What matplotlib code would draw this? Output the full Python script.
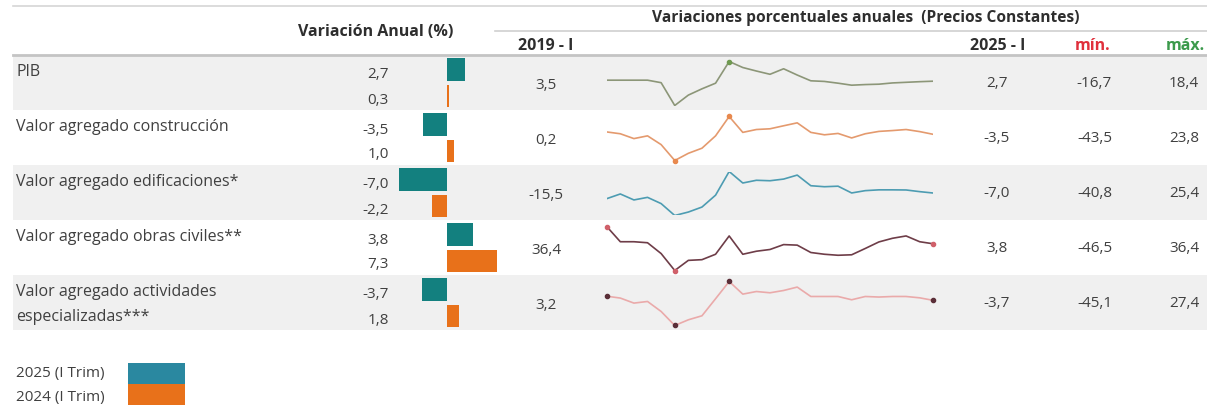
import numpy as np
import matplotlib.pyplot as plt
from matplotlib.patches import Rectangle

plt.rcParams['font.family'] = ['Open Sans', 'DejaVu Sans']

W, H = 1207, 409

# Datos
labels = ["PIB",
          "Valor agregado construcción",
          "Valor agregado edificaciones*",
          "Valor agregado obras civiles**",
          "Valor agregado actividades\nespecializadas***"]
var_2025 = [2.7, -3.5, -7.0, 3.8, -3.7]
var_2024 = [0.3, 1.0, -2.2, 7.3, 1.8]
val_2019 = [3.5, 0.2, -15.5, 36.4, 3.2]
val_2025 = [2.7, -3.5, -7.0, 3.8, -3.7]
val_min = [-16.7, -43.5, -40.8, -46.5, -45.1]
val_max = [18.4, 23.8, 25.4, 36.4, 27.4]

# series trimestrales 2019-I ... 2025-I
serie_pib = [3.5, 3.5, 3.5, 3.5, 1.5, -16.7, -8.4, -3.4, 1.1, 18.4, 13.6, 10.8, 8.2,
             12.6, 7.6, 3.0, 2.5, 1.1, -0.5, 0.0, 0.3, 1.3, 1.8, 2.3, 2.7]
serie_constr = [0.2, -2.6, -10.0, -5.8, -19.2, -43.5, -32.5, -24.7, -5.8, 23.8, -0.5, 3.9, 5.0,
                9.6, 14.1, -0.5, -4.2, -2.1, -9.0, -2.6, 1.0, 2.3, 3.9, 0.7, -3.5]
serie_edif = [-15.5, -8.4, -17.4, -13.5, -22.9, -40.8, -35.6, -28.1, -10.2, 25.4, 8.1, 12.2, 11.5,
              14.0, 20.0, 4.0, 2.5, 3.3, -6.9, -3.4, -2.2, -2.2, -2.4, -4.9, -7.0]
serie_obras = [36.4, 7.7, 7.7, 5.8, -14.6, -46.5, -27.4, -26.1, -15.9, 18.6, -15.9, -10.2, -6.9,
               2.3, 1.3, -12.6, -15.9, -17.8, -16.9, -5.0, 7.3, 14.2, 18.6, 7.7, 3.8]
serie_activ = [3.2, 0.1, -8.2, -5.5, -22.0, -45.1, -35.7, -29.1, -1.0, 27.4, 6.6, 10.9, 8.8,
               12.6, 18.2, 2.7, 2.7, 2.7, -2.7, 2.7, 1.8, 2.7, 2.7, 0.5, -3.7]
series = [serie_pib, serie_constr, serie_edif, serie_obras, serie_activ]

line_colors = ["#8c9678", "#e49a6e", "#4d9cb2", "#6e3d48", "#eaaaaa"]
marker_colors = ["#6f9a50", "#e8894e", "#4d9cb2", "#d0606a", "#5a2e38"]
# que puntos se marcan en cada sparkline
marker_kinds = [["max"], ["max", "min"], [], ["first", "min", "last"],
                ["first", "min", "max", "last"]]

TEAL = "#13807f"
ORANGE = "#e8711a"
TXT = "#404040"
HDR = "#2e2e2e"
FS_LAB, FS_NUM, FS_HDR = 11.5, 11, 11.2

row_top = [55, 110, 165, 220, 275]
row_h = 55


def fmt(v):
    return f"{v:.1f}".replace(".", ",")


def px_axes(fig, x0, x1, y0, y1):
    return fig.add_axes([x0 / W, 1 - y1 / H, (x1 - x0) / W, (y1 - y0) / H])


fig = plt.figure(figsize=(W / 100, H / 100), dpi=100)
bg = fig.add_axes([0, 0, 1, 1])
bg.set_xlim(0, W)
bg.set_ylim(H, 0)
bg.axis('off')

# fondo de filas
for i, top in enumerate(row_top):
    if i % 2 == 0:
        bg.add_patch(Rectangle((13, top), W - 13, row_h, color="#f0f0f0", lw=0))

# lineas de encabezado
bg.plot([13, W], [6, 6], color="#d6d6d6", lw=1.2)
bg.plot([495, W], [31, 31], color="#d0d0d0", lw=1.2)
bg.plot([13, W], [54.5, 54.5], color="#c4c4c4", lw=2)

# encabezados
bg.text(376, 32, "Variación Anual (%)", ha="center", va="center", fontsize=FS_HDR + 0.3,
        fontweight="bold", color=HDR)
bg.text(866, 18, "Variaciones porcentuales anuales  (Precios Constantes)", ha="center",
        va="center", fontsize=FS_HDR, fontweight="bold", color=HDR)
bg.text(546, 46, "2019 - I", ha="center", va="center", fontsize=11.5, fontweight="bold", color=HDR)
bg.text(998, 46, "2025 - I", ha="center", va="center", fontsize=11.5, fontweight="bold", color=HDR)
bg.text(1093, 46, "mín.", ha="center", va="center", fontsize=11.5, fontweight="bold", color="#e0303c")
bg.text(1185, 46, "máx.", ha="center", va="center", fontsize=11.5, fontweight="bold", color="#3c9a4c")

# textos de filas
for i, top in enumerate(row_top):
    for k, line in enumerate(labels[i].split("\n")):
        bg.text(16, top + 17 + 25 * k, line, ha="left", va="center", fontsize=FS_LAB, color=TXT)
    bg.text(389, top + 20, fmt(var_2025[i]), ha="right", va="center", fontsize=FS_NUM, color=TXT)
    bg.text(389, top + 45, fmt(var_2024[i]), ha="right", va="center", fontsize=FS_NUM, color=TXT)
    bg.text(546, top + 30.5, fmt(val_2019[i]), ha="center", va="center", fontsize=FS_NUM, color=TXT)
    bg.text(997, top + 28.5, fmt(val_2025[i]), ha="center", va="center", fontsize=FS_NUM, color=TXT)
    bg.text(1112, top + 28.5, fmt(val_min[i]), ha="right", va="center", fontsize=FS_NUM, color=TXT)
    bg.text(1199, top + 28.5, fmt(val_max[i]), ha="right", va="center", fontsize=FS_NUM, color=TXT)

# barras de variacion anual
zero_px, scale = 447, 6.85
ax_bar = px_axes(fig, 395, 500, 55, 330)
ax_bar.patch.set_alpha(0)
pos = np.arange(len(labels))
ax_bar.barh(pos + 0.26, var_2025, height=0.41, color=TEAL)
ax_bar.barh(pos + 0.75, var_2024, height=0.40, color=ORANGE)
ax_bar.set_xlim(-(zero_px - 395) / scale, (500 - zero_px) / scale)
ax_bar.set_ylim(len(labels), 0)
ax_bar.axis('off')

# sparklines
for i, top in enumerate(row_top):
    s = np.array(series[i])
    ax = px_axes(fig, 606.7, 933.3, top + 6.5, top + 50.5)
    ax.patch.set_alpha(0)
    x = np.arange(len(s))
    ax.plot(x, s, color=line_colors[i], lw=1.2, solid_joinstyle="round")
    idx = {"first": 0, "last": len(s) - 1, "min": int(s.argmin()), "max": int(s.argmax())}
    for kind in marker_kinds[i]:
        j = idx[kind]
        ax.plot(x[j], s[j], "o", ms=3, color=marker_colors[i], clip_on=False)
    ax.set_xlim(0, len(s) - 1)
    ax.set_ylim(s.min(), s.max())
    ax.axis('off')

# leyenda
bg.text(16, 373, "2025 (I Trim)", ha="left", va="center", fontsize=FS_NUM, color=TXT)
bg.text(16, 397, "2024 (I Trim)", ha="left", va="center", fontsize=FS_NUM, color=TXT)
bg.add_patch(Rectangle((128, 363), 57, 21, color="#2a88a0", lw=0))
bg.add_patch(Rectangle((128, 384), 57, 21, color=ORANGE, lw=0))

fig.savefig("out.png", dpi=100)
